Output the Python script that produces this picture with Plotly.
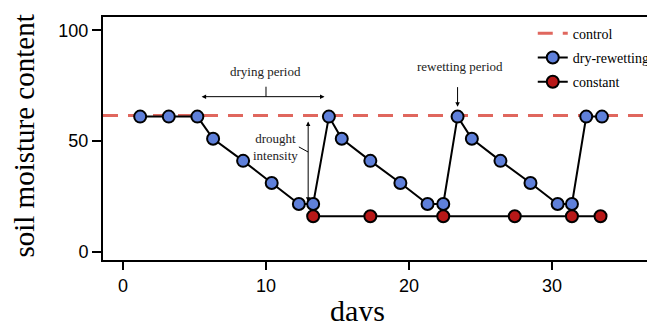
import plotly.graph_objects as go

# ---- data ----
dry_days = [1.2, 3.2, 5.2, 6.3, 8.4, 10.4, 12.3, 13.3, 14.4, 15.3, 17.3, 19.4,
            21.3, 22.4, 23.4, 24.4, 26.4, 28.5, 30.4, 31.4, 32.4, 33.5]
dry_vals = [61, 61, 61, 51, 41, 31, 21.5, 21.5, 61, 51, 41, 31,
            21.5, 21.5, 61, 51, 41, 31, 21.5, 21.5, 61, 61]
const_days = [13.3, 17.3, 22.4, 27.4, 31.4, 33.4]
const_vals = [16, 16, 16, 16, 16, 16]
control_level = 61.5
x_range = [-1.4, 36.65]
y_range = [-3.8, 106]
x_ticks = [0, 10, 20, 30]
y_ticks = [0, 50, 100]

BLUE = "#5f80da"
RED = "#b81818"
CTRL = "#e0675e"
SERIF = "Liberation Serif"
SANS = "Liberation Sans"

fig = go.Figure()
fig.add_trace(go.Scatter(x=x_range, y=[control_level, control_level], mode="lines",
                         name="control", legendgroup="a",
                         line=dict(color=CTRL, width=3, dash="15px,10px")))
fig.add_trace(go.Scatter(x=dry_days, y=dry_vals, mode="lines+markers", name="dry-rewetting",
                         legendgroup="b", line=dict(color="black", width=2),
                         marker=dict(size=12, color=BLUE, line=dict(color="black", width=2))))
fig.add_trace(go.Scatter(x=const_days, y=const_vals, mode="lines+markers", name="constant",
                         legendgroup="c", line=dict(color="black", width=2),
                         marker=dict(size=12, color=RED, line=dict(color="black", width=2))))

ann = []
# drying period
ann.append(dict(x=5.5, y=70, ax=14.2, ay=70, xref="x", yref="y", axref="x", ayref="y",
                text="", showarrow=True, arrowhead=2, arrowside="end+start",
                arrowsize=0.9, arrowwidth=1, arrowcolor="black"))
ann.append(dict(x=10.0, y=81.5, xref="x", yref="y", text="drying period", showarrow=False,
                font=dict(family=SERIF, size=13, color="#222")))
# drought intensity
ann.append(dict(x=12.95, y=22.5, ax=12.95, ay=59.5, xref="x", yref="y", axref="x", ayref="y",
                text="", showarrow=True, arrowhead=2, arrowside="end+start",
                arrowsize=0.9, arrowwidth=1, arrowcolor="black"))
ann.append(dict(x=10.65, y=47.3, xref="x", yref="y", text="drought<br>intensity",
                showarrow=False, font=dict(family=SERIF, size=13, color="#222")))
# rewetting period
ann.append(dict(x=23.4, y=65.5, ax=23.4, ay=75, xref="x", yref="y", axref="x", ayref="y",
                text="", showarrow=True, arrowhead=2, arrowsize=0.9, arrowwidth=1,
                arrowcolor="black"))
ann.append(dict(x=23.55, y=83.8, xref="x", yref="y", text="rewetting period", showarrow=False,
                font=dict(family=SERIF, size=13, color="#222")))
# axis titles
ann.append(dict(x=16.4, y=0, xref="x", yref="paper", yanchor="top", yshift=-32,
                text="days", showarrow=False, font=dict(family=SERIF, size=30, color="black")))
ann.append(dict(x=0, y=0.508, xref="paper", yref="paper", xanchor="right", xshift=-61,
                text="soil moisture content", textangle=-90, showarrow=False,
                font=dict(family=SERIF, size=29, color="black")))

shapes = [
    dict(type="line", xref="x", yref="y", x0=10.0, x1=10.0, y0=70, y1=74.5,
         line=dict(color="black", width=1)),
    dict(type="line", xref="x", yref="y", x0=12.3, x1=12.95, y0=47.3, y1=45.0,
         line=dict(color="black", width=1)),
]

fig.update_layout(
    width=647, height=321,
    margin=dict(l=103, r=0, t=17, b=61, autoexpand=False),
    plot_bgcolor="white", paper_bgcolor="white",
    annotations=ann, shapes=shapes,
    showlegend=True,
    legend=dict(x=0.79, y=0.997, xanchor="left", yanchor="top", bgcolor="rgba(0,0,0,0)",
                font=dict(family=SERIF, size=14, color="black"), itemwidth=30,
                tracegroupgap=3),
    xaxis=dict(range=x_range, tickvals=x_ticks, showgrid=False, zeroline=False,
               showline=True, linecolor="black", linewidth=2, mirror=True,
               ticks="outside", ticklen=8, tickwidth=2, tickcolor="black",
               tickfont=dict(family=SANS, size=18, color="black")),
    yaxis=dict(range=y_range, tickvals=y_ticks, showgrid=False, zeroline=False,
               showline=True, linecolor="black", linewidth=2, mirror=False,
               ticks="outside", ticklen=9, tickwidth=2, tickcolor="black",
               tickfont=dict(family=SANS, size=18, color="black")),
)

fig.write_html("out.html", config={"displayModeBar": False},
               post_script="document.body.style.margin='0px';")
